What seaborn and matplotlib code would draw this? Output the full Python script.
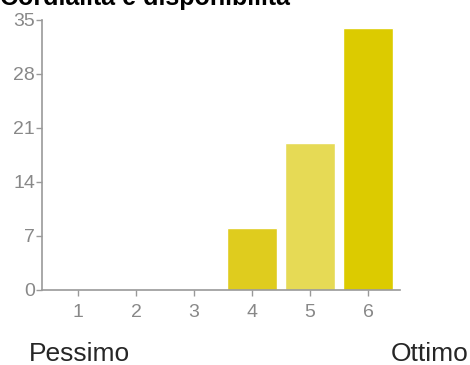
import pandas as pd
import seaborn as sns
import matplotlib.pyplot as plt

# Data
categories = ["1", "2", "3", "4", "5", "6"]
counts = [0, 0, 0, 8, 19, 34]
bar_colors = ["#dfcc1e", "#dfcc1e", "#dfcc1e", "#dfcc1e", "#e6da55", "#dccb00"]
y_ticks = [0, 7, 14, 21, 28, 35]

title = "Cordialità e disponibilità"
low_label = "Pessimo"
high_label = "Ottimo"

df = pd.DataFrame({"score": categories, "count": counts})

sns.set_style("white")
plt.rcParams["font.family"] = ["Liberation Sans", "DejaVu Sans"]

fig = plt.figure(figsize=(4.7, 3.65), dpi=100)
ax = fig.add_axes([42 / 470, 1 - 290 / 365, 358 / 470, 270 / 365])

sns.barplot(data=df, x="score", y="count", hue="score", palette=bar_colors,
            legend=False, width=0.85, saturation=1, ax=ax)

ax.set_xlim(-0.62, 5.55)
ax.set_ylim(0, 35)
ax.set_yticks(y_ticks)
ax.set_xlabel("")
ax.set_ylabel("")

grey = "#999999"
for side in ["top", "right"]:
    ax.spines[side].set_visible(False)
for side in ["left", "bottom"]:
    ax.spines[side].set_color(grey)
    ax.spines[side].set_linewidth(1.2)
ax.tick_params(axis="both", colors=grey, labelcolor="#888888", labelsize=14,
               length=4, width=1, direction="out", left=True, bottom=True)
ax.tick_params(axis="y", pad=1)
ax.tick_params(axis="x", pad=6)

# title is partly cut at the top edge in the original
fig.text(0.0, 1 - 5 / 365, title, fontsize=18, fontweight="bold",
         va="baseline", ha="left", color="black")
fig.text(29 / 470, 4 / 365, low_label, fontsize=19, va="baseline", ha="left")
fig.text(468 / 470, 4 / 365, high_label, fontsize=19, va="baseline", ha="right")

fig.savefig("out.png", dpi=100)
